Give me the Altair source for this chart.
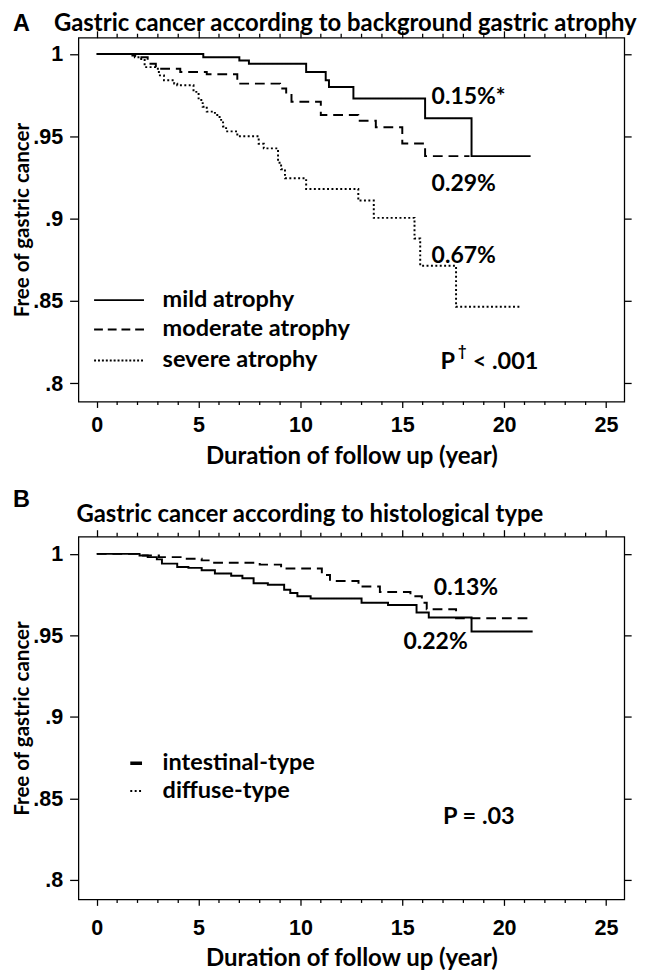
import altair as alt
import pandas as pd

# ---------------- Panel A: background gastric atrophy ----------------
groups_A = ["mild atrophy", "moderate atrophy", "severe atrophy"]
mild_t = [0, 5.23, 7.0, 7.47, 10.28, 11.24, 11.4, 12.6, 16.12, 18.4, 21.3]
mild_s = [1, 0.998, 0.996, 0.994, 0.989, 0.984, 0.980, 0.973, 0.961, 0.938, 0.938]
mod_t = [0, 1.75, 2.03, 2.5, 2.9, 4.1, 5.4, 6.9, 9.0, 9.3, 9.56, 11.0, 12.84, 13.7, 15.0, 16.12, 18.3]
mod_s = [1, 0.999, 0.998, 0.994, 0.991, 0.989, 0.9877, 0.982, 0.979, 0.976, 0.971, 0.963, 0.9595, 0.9555,
         0.9456, 0.938, 0.938]
sev_t = [0, 1.87, 2.1, 2.35, 3.0, 3.1, 3.3, 3.8, 3.95, 4.75, 5.0, 5.2, 5.4, 5.8, 6.03, 6.2, 6.35, 6.9, 7.95,
         8.2, 8.9, 9.05, 9.24, 10.28, 12.84, 13.6, 15.6, 15.88, 17.64, 20.76]
sev_s = [1, 0.998, 0.997, 0.992, 0.989, 0.987, 0.984, 0.982, 0.981, 0.977, 0.972, 0.968, 0.965, 0.963, 0.960,
         0.956, 0.953, 0.950, 0.9455, 0.9427, 0.934, 0.930, 0.9245, 0.918, 0.911, 0.9005, 0.888, 0.8715,
         0.8465, 0.8465]
annot_A_text = ["0.15%*", "0.29%", "0.67%"]
annot_A_t = [16.44, 16.44, 16.44]
annot_A_s = [0.974, 0.9207, 0.8775]
p_A_t, p_A_s = 16.87, 0.8129

# ---------------- Panel B: histological type ----------------
groups_B = ["intestinal-type", "diffuse-type"]
int_t = [0, 2.1, 2.5, 2.95, 3.2, 3.95, 4.5, 5.15, 5.8, 6.6, 7.15, 7.7, 8.4, 9.2, 9.5, 9.85, 10.5, 13.0, 14.3,
         15.7, 16.3, 18.4, 21.4]
int_s = [1, 0.999, 0.998, 0.9966, 0.994, 0.992, 0.9914, 0.990, 0.988, 0.9866, 0.985, 0.982, 0.981, 0.978,
         0.976, 0.974, 0.9726, 0.970, 0.9686, 0.964, 0.961, 0.9524, 0.9524]
dif_t = [0, 2.2, 3.05, 4.25, 5.15, 5.55, 8.0, 9.05, 11.05, 11.45, 12.85, 13.9, 15.4, 15.96, 16.2, 17.64, 21.4]
dif_s = [1, 0.999, 0.998, 0.997, 0.996, 0.9946, 0.9934, 0.991, 0.987, 0.9834, 0.980, 0.9766, 0.974, 0.970,
         0.966, 0.9605, 0.9605]
annot_B_text = ["0.13%", "0.22%"]
annot_B_t = [16.55, 15.06]
annot_B_s = [0.9788, 0.9458]
p_B_t, p_B_s = 17.0, 0.8387

x_ticks = [0, 5, 10, 15, 20, 25]
x_minor = [1, 2, 3, 4, 6, 7, 8, 9, 11, 12, 13, 14, 16, 17, 18, 19, 21, 22, 23, 24]
y_ticks = [0.8, 0.85, 0.9, 0.95, 1]

TITLE_FONT = "Lato"
TICK_FONT = "Liberation Sans"
W = 558


def curve_df(ts, ss, name):
    return pd.DataFrame({"t": ts, "s": ss, "group": name})


def panel(curves, dash_dom, dash_rng, ydom, H, annot, p_parts, legend, letter, title, title_x, title_y,
          letter_y, leg_sym_x, leg_sym_w, leg_rows, lab_pad, xtitle_y):
    xs = alt.Scale(domain=[-0.9, 25.9], nice=False, zero=False)
    ys = alt.Scale(domain=ydom, nice=False, zero=False)
    xbottom = alt.Axis(values=x_ticks, format="d", tickSize=6, domain=False, grid=False, labelFont=TICK_FONT,
                       labelFontSize=22, labelFontWeight="bold", labelPadding=lab_pad, labelFlush=False,
                       title="Duration of follow up (year)", titleFont=TITLE_FONT, titleFontSize=24.5,
                       titleFontWeight="bold", titleY=xtitle_y, titleBaseline="alphabetic")
    yleft = alt.Axis(values=y_ticks, labelExpr="datum.value == 1 ? '1' : replace(toString(datum.value), '0.', '.')",
                     tickSize=9, domain=False, grid=False, labelFont=TICK_FONT, labelFontSize=22,
                     labelFontWeight="bold", labelPadding=7,
                     labelFlush=False, title="Free of gastric cancer", titleFont=TITLE_FONT, titleFontSize=21,
                     titleFontWeight="bold", titleX=-57, titleY=H / 2, titleAngle=270, titleBaseline="middle",
                     titleAlign="center")
    xtop = alt.Axis(orient="top", values=x_ticks, tickSize=7, labels=False, domain=False, grid=False, title=None)
    yright = alt.Axis(orient="right", values=y_ticks, tickSize=7, labels=False, domain=False, grid=False,
                      title=None)

    lines = alt.Chart(curves).mark_line(interpolate="step-after", color="black", strokeWidth=2).encode(
        x=alt.X("t:Q", scale=xs, axis=xbottom),
        y=alt.Y("s:Q", scale=ys, axis=yleft),
        strokeDash=alt.StrokeDash("group:N", scale=alt.Scale(domain=dash_dom, range=dash_rng), legend=None),
    )
    mirror = alt.Chart(curves).mark_line(opacity=0).encode(
        x=alt.X("t:Q", scale=xs, axis=xtop),
        y=alt.Y("s:Q", scale=ys, axis=yright),
    )
    minor = pd.DataFrame({"yr": x_minor})
    minor_bottom = alt.Chart(minor).mark_rule(color="black", strokeWidth=1.3).encode(
        x=alt.X("yr:Q", scale=xs, axis=None), y=alt.value(H), y2=alt.value(H + 3.5))
    minor_top = alt.Chart(minor).mark_rule(color="black", strokeWidth=1.3).encode(
        x=alt.X("yr:Q", scale=xs, axis=None), y=alt.value(0), y2=alt.value(-4))
    ann = alt.Chart(annot).mark_text(align="left", baseline="middle", font=TITLE_FONT, fontSize=23.5,
                                     fontWeight="bold", color="black").encode(
        x=alt.X("t:Q", scale=xs, axis=None), y=alt.Y("s:Q", scale=ys, axis=None), text="label:N")
    layers = [lines, mirror, minor_bottom, minor_top, ann]
    for txt, dx, dy, fs in p_parts:
        layers.append(alt.Chart(pd.DataFrame({"t": [txt[1]], "s": [txt[2]], "label": [txt[0]]}))
                      .mark_text(align="left", baseline="middle", font=TITLE_FONT, fontSize=fs,
                                 fontWeight="bold", color="black", dx=dx, dy=dy)
                      .encode(x=alt.X("t:Q", scale=xs, axis=None), y=alt.Y("s:Q", scale=ys, axis=None),
                              text="label:N"))
    # legend
    for (name, dash, sw), yrow in zip(legend, leg_rows):
        layers.append(alt.Chart(pd.DataFrame({"label": [name]})).mark_rule(
            color="black", strokeWidth=sw, strokeDash=dash).encode(
            x=alt.value(leg_sym_x), x2=alt.value(leg_sym_x + leg_sym_w), y=alt.value(yrow)))
        layers.append(alt.Chart(pd.DataFrame({"label": [name]})).mark_text(
            align="left", baseline="middle", font=TITLE_FONT, fontSize=24, fontWeight="bold",
            color="black").encode(x=alt.value(86), y=alt.value(yrow), text="label:N"))
    # titles
    layers.append(alt.Chart(pd.DataFrame({"label": [letter]})).mark_text(
        align="left", baseline="alphabetic", font="Liberation Sans", fontSize=24, fontWeight="bold",
        color="black").encode(x=alt.value(-67), y=alt.value(letter_y), text="label:N"))
    layers.append(alt.Chart(pd.DataFrame({"label": [title]})).mark_text(
        align="left", baseline="alphabetic", font=TITLE_FONT, fontSize=24.4, fontWeight="bold",
        color="black").encode(x=alt.value(title_x), y=alt.value(title_y), text="label:N"))
    return alt.layer(*layers).resolve_axis(x="independent", y="independent").properties(width=W, height=H)


curves_A = pd.concat([curve_df(mild_t, mild_s, groups_A[0]), curve_df(mod_t, mod_s, groups_A[1]),
                      curve_df(sev_t, sev_s, groups_A[2])])
curves_B = pd.concat([curve_df(int_t, int_s, groups_B[0]), curve_df(dif_t, dif_s, groups_B[1])])
annA = pd.DataFrame({"label": annot_A_text, "t": annot_A_t, "s": annot_A_s})
annB = pd.DataFrame({"label": annot_B_text, "t": annot_B_t, "s": annot_B_s})

chartA = panel(curves_A, groups_A, [[1, 0], [10, 6], [2, 2.5]], [0.789, 1.0099], 372, annA,
               [(("P", p_A_t, p_A_s), 0, 0, 24), (("\u2020", p_A_t, p_A_s), 18, -11, 15),
                (("< .001", p_A_t, p_A_s), 33, 0, 24)],
               [(groups_A[0], [1, 0], 2), (groups_A[1], [9, 5], 2), (groups_A[2], [2, 2], 2)],
               "A", "Gastric cancer according to background gastric atrophy", -25, -6.5, -7,
               16, 51, [268.3, 298.3, 330], 8, 63)
chartB = panel(curves_B, groups_B, [[1, 0], [10, 6]], [0.788, 1.0106], 371, annB,
               [(("P = .03", p_B_t, p_B_s), 0, 0, 24)],
               [(groups_B[0], [1, 0], 3.5), (groups_B[1], [2, 2.5], 2)],
               "B", "Gastric cancer according to histological type", -2, -15, -30,
               53, 12, [231.7, 260], 13, 67)

chart = alt.vconcat(chartA, chartB, spacing=19).properties(
    padding={"left": 3, "top": -8.5, "right": 0, "bottom": 0}
).configure_view(stroke="black", strokeWidth=1.3).configure_axis(
    tickColor="black", labelColor="black", titleColor="black", tickWidth=1.3
)

chart.save("out.html", embed_options={"renderer": "svg", "actions": False})
